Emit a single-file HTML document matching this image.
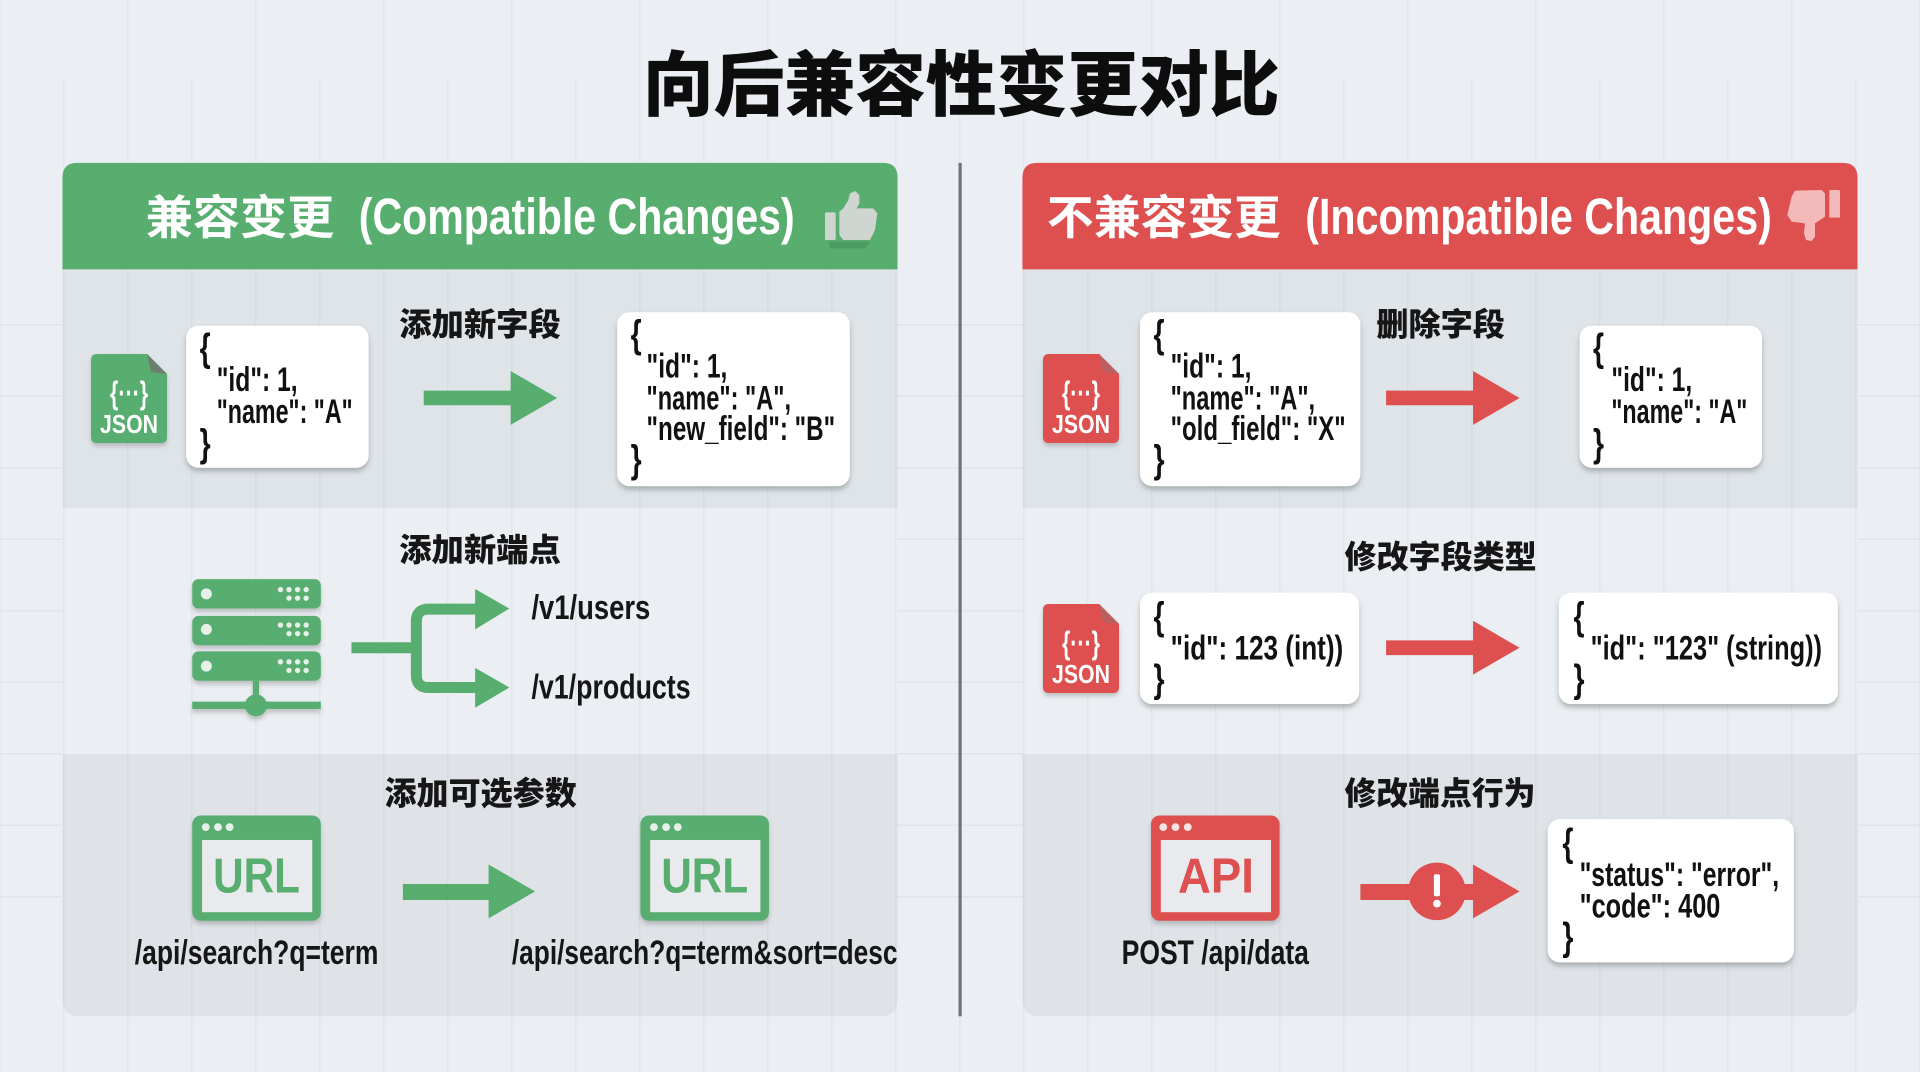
<!DOCTYPE html>
<html lang="zh">
<head>
<meta charset="utf-8">
<title>向后兼容性变更对比</title>
<style>
html,body{margin:0;padding:0;width:1920px;height:1072px;overflow:hidden;background-color:#ebeff3}
.g{position:absolute}
.h{left:0;top:320px;width:1920px;height:590px;background-image:linear-gradient(to bottom,#e0e4e9 1.5px,transparent 1.5px);background-size:64px 71.5px;background-position:0 4px}
.p{background:#ebeff3;top:163px;height:853px;width:835px}
.v1{left:0;top:0;width:1920px;height:1072px;background-image:linear-gradient(to right,#e2e6eb 1.5px,transparent 1.5px);background-size:128px 100%;background-position:127px 0}
.v2{left:0;top:80px;width:1920px;height:992px;background-image:linear-gradient(to right,#e2e6eb 1.5px,transparent 1.5px);background-size:128px 100%;background-position:63px 0}
svg{display:block;position:absolute;left:0;top:0}
text{font-family:"Liberation Sans","Noto Sans CJK SC",sans-serif;font-weight:700;fill:#111}
.cjk{font-family:"Noto Sans CJK SC","Liberation Sans",sans-serif;font-weight:900;fill:#0d0d0d}
.lab{font-family:"Noto Sans CJK SC","Liberation Sans",sans-serif;font-weight:900;font-size:26px;fill:#161616}
.w{fill:#fff}
.c{font-size:28px}
.b{font-size:32px;font-weight:700}
.u{font-size:28px;fill:#161616}
</style>
</head>
<body>
<div class="g h"></div>
<div class="g p" style="left:62px"></div>
<div class="g p" style="left:1023px"></div>
<div class="g v1"></div>
<div class="g v2"></div>
<svg width="1920" height="1072" viewBox="0 0 1568 875.5" xmlns="http://www.w3.org/2000/svg">
<defs>
<filter id="s" x="-15%" y="-15%" width="130%" height="135%"><feDropShadow dx="0" dy="3" stdDeviation="2.2" flood-color="#6f7a78" flood-opacity=".5"/></filter>
<filter id="i" x="-15%" y="-15%" width="130%" height="135%"><feDropShadow dx="0" dy="3" stdDeviation="2" flood-color="#777" flood-opacity=".4"/></filter>
</defs>

<!-- title -->
<text class="cjk" x="525" y="90" font-size="58" textLength="520" lengthAdjust="spacingAndGlyphs">向后兼容性变更对比</text>

<!-- divider -->
<rect x="782.8" y="133" width="2.6" height="697" fill="#68757b"/>

<!-- LEFT PANEL -->
<path d="M51 220H733V415H51Z" fill="#8a93a3" fill-opacity=".12"/>
<path d="M51 616H733V816Q733 830 719 830H65Q51 830 51 816Z" fill="#8a8f9a" fill-opacity=".12"/>
<path d="M51 220V145Q51 133 63 133H721Q733 133 733 145V220Z" fill="#58ae6f"/>
<text class="w" style="font-family:'Noto Sans CJK SC',sans-serif;font-weight:700" x="119" y="191" font-size="38" textLength="154" lengthAdjust="spacingAndGlyphs">兼容变更</text>
<text class="w" x="293" y="191" font-size="42" textLength="356" lengthAdjust="spacingAndGlyphs">(Compatible Changes)</text>
<g transform="scale(.81667) translate(820 180) scale(.3333)">
<path d="M25 185H150L135 205H30Z" fill="#3e7d50" opacity=".4"/>
<path d="M58 95L70 85 85 60 90 40 105 33 118 45 118 70 110 85H160L172 100 165 150 150 180H70L58 165Z" fill="#cfd6d1"/>
<rect x="15" y="97" width="32" height="83" rx="3" fill="#cfd6d1"/>
</g>

<!-- row 1 left -->
<g transform="scale(.81667) translate(91 354)" filter="url(#i)">
<path d="M6 0H56L76 20V83Q76 89 70 89H6Q0 89 0 83V6Q0 0 6 0Z" fill="#58ae6f"/>
<path d="M56 0L76 20 60 18Z" fill="#6a7f70"/>
<text class="w" x="19" y="50" font-size="32" textLength="38" lengthAdjust="spacingAndGlyphs">{···}</text>
<text class="w" x="9" y="79" font-size="26" textLength="58" lengthAdjust="spacingAndGlyphs">JSON</text>
</g>
<rect x="152" y="266" width="149" height="116" rx="10" fill="#fff" filter="url(#s)"/>
<text class="b" x="163" y="295" textLength="9" lengthAdjust="spacingAndGlyphs">{</text>
<text class="c" x="177" y="319.500" textLength="66" lengthAdjust="spacingAndGlyphs">"id": 1,</text>
<text class="c" x="177" y="345.500" textLength="111" lengthAdjust="spacingAndGlyphs">"name": "A"</text>
<text class="b" x="163" y="373" textLength="9" lengthAdjust="spacingAndGlyphs">}</text>

<text class="lab" x="326" y="274" textLength="132" lengthAdjust="spacingAndGlyphs">添加新字段</text>
<path d="M346 319H417V303L455 325 417 347V331H346Z" fill="#58ae6f"/>

<rect x="504" y="255" width="190" height="142" rx="10" fill="#fff" filter="url(#s)"/>
<text class="b" x="515" y="284" textLength="9" lengthAdjust="spacingAndGlyphs">{</text>
<text class="c" x="528" y="308.500" textLength="66" lengthAdjust="spacingAndGlyphs">"id": 1,</text>
<text class="c" x="528" y="334.500" textLength="118" lengthAdjust="spacingAndGlyphs">"name": "A",</text>
<text class="c" x="528" y="359.500" textLength="154" lengthAdjust="spacingAndGlyphs">"new_field": "B"</text>
<text class="b" x="515" y="386" textLength="9" lengthAdjust="spacingAndGlyphs">}</text>

<!-- row 2 left -->
<text class="lab" x="326" y="458" textLength="132" lengthAdjust="spacingAndGlyphs">添加新端点</text>
<g filter="url(#i)" fill="#58ae6f">
<rect x="157" y="473" width="105" height="24" rx="5"/>
<rect x="157" y="503" width="105" height="24" rx="5"/>
<rect x="157" y="532" width="105" height="24" rx="5"/>
<rect x="206.500" y="556" width="5" height="20"/>
<rect x="157" y="573" width="105" height="6"/>
<circle cx="209" cy="576" r="9"/>
</g>
<g fill="#e6efe8">
<circle cx="168.500" cy="485" r="4.500"/><circle cx="168.500" cy="514" r="4.500"/><circle cx="168.500" cy="544" r="4.500"/>
<g><circle cx="229" cy="481.500" r="2.200"/><circle cx="236" cy="481.500" r="2.200"/><circle cx="243" cy="481.500" r="2.200"/><circle cx="250" cy="481.500" r="2.200"/><circle cx="236" cy="488.500" r="2.200"/><circle cx="243" cy="488.500" r="2.200"/><circle cx="250" cy="488.500" r="2.200"/></g>
<g transform="translate(0 29)"><circle cx="229" cy="481.500" r="2.200"/><circle cx="236" cy="481.500" r="2.200"/><circle cx="243" cy="481.500" r="2.200"/><circle cx="250" cy="481.500" r="2.200"/><circle cx="236" cy="488.500" r="2.200"/><circle cx="243" cy="488.500" r="2.200"/><circle cx="250" cy="488.500" r="2.200"/></g>
<g transform="translate(0 59)"><circle cx="229" cy="481.500" r="2.200"/><circle cx="236" cy="481.500" r="2.200"/><circle cx="243" cy="481.500" r="2.200"/><circle cx="250" cy="481.500" r="2.200"/><circle cx="236" cy="488.500" r="2.200"/><circle cx="243" cy="488.500" r="2.200"/><circle cx="250" cy="488.500" r="2.200"/></g>
</g>
<path d="M287 529H340M392 497.500H350Q340 497.500 340 507.500V551.500Q340 561.500 350 561.500H392" fill="none" stroke="#58ae6f" stroke-width="9"/>
<path d="M388 481L416 497 388 514ZM388 545.500L416 561.500 388 578Z" fill="#58ae6f"/>
<text class="u" x="434" y="505.500" textLength="97" lengthAdjust="spacingAndGlyphs">/v1/users</text>
<text class="u" x="434" y="570.500" textLength="130" lengthAdjust="spacingAndGlyphs">/v1/products</text>

<!-- row 3 left -->
<text class="lab" x="314" y="657" textLength="157" lengthAdjust="spacingAndGlyphs">添加可选参数</text>
<g filter="url(#i)">
<rect x="157" y="666" width="105" height="86" rx="7" fill="#58ae6f"/>
<rect x="165" y="686" width="90" height="59" fill="#e8eaee"/>
</g>
<circle cx="168" cy="675.500" r="3.200" fill="#e6efe8"/><circle cx="178" cy="675.500" r="3.200" fill="#e6efe8"/><circle cx="187.500" cy="675.500" r="3.200" fill="#e6efe8"/>
<text style="fill:#58ae6f" x="174" y="729" font-size="40" textLength="71" lengthAdjust="spacingAndGlyphs">URL</text>
<g filter="url(#i)">
<rect x="523" y="666" width="105" height="86" rx="7" fill="#58ae6f"/>
<rect x="531" y="686" width="90" height="59" fill="#e8eaee"/>
</g>
<circle cx="534" cy="675.500" r="3.200" fill="#e6efe8"/><circle cx="544" cy="675.500" r="3.200" fill="#e6efe8"/><circle cx="553.500" cy="675.500" r="3.200" fill="#e6efe8"/>
<text style="fill:#58ae6f" x="540" y="729" font-size="40" textLength="71" lengthAdjust="spacingAndGlyphs">URL</text>
<path d="M329 722H399V706L437 728 399 750V735H329Z" fill="#58ae6f"/>
<text class="u" x="110" y="787.500" textLength="199" lengthAdjust="spacingAndGlyphs">/api/search?q=term</text>
<text class="u" x="418" y="787.500" textLength="315" lengthAdjust="spacingAndGlyphs">/api/search?q=term&amp;sort=desc</text>

<!-- RIGHT PANEL -->
<path d="M835 220H1517V415H835Z" fill="#8a93a3" fill-opacity=".12"/>
<path d="M835 616H1517V816Q1517 830 1503 830H849Q835 830 835 816Z" fill="#8a8f9a" fill-opacity=".12"/>
<path d="M835 220V145Q835 133 847 133H1505Q1517 133 1517 145V220Z" fill="#de4f4f"/>
<text class="w" style="font-family:'Noto Sans CJK SC',sans-serif;font-weight:700" x="855" y="191" font-size="38" textLength="191" lengthAdjust="spacingAndGlyphs">不兼容变更</text>
<text class="w" x="1066" y="191" font-size="42" textLength="381" lengthAdjust="spacingAndGlyphs">(Incompatible Changes)</text>
<g transform="scale(.81667) translate(1780 180) scale(.3333)" fill="#f4b9b9">
<path d="M45 32L125 30 135 40V110L105 130V170L95 183 78 180 72 160 75 130 35 125 22 105 35 50Z"/>
<rect x="148" y="30" width="32" height="83" rx="4"/>
</g>

<!-- row 1 right -->
<g transform="scale(.81667) translate(1043 354)" filter="url(#i)">
<path d="M6 0H56L76 20V83Q76 89 70 89H6Q0 89 0 83V6Q0 0 6 0Z" fill="#de4f4f"/>
<path d="M56 0L76 20 60 18Z" fill="#b9605f"/>
<text class="w" x="19" y="50" font-size="32" textLength="38" lengthAdjust="spacingAndGlyphs">{···}</text>
<text class="w" x="9" y="79" font-size="26" textLength="58" lengthAdjust="spacingAndGlyphs">JSON</text>
</g>
<rect x="931" y="255" width="180" height="142" rx="10" fill="#fff" filter="url(#s)"/>
<text class="b" x="942" y="284" textLength="9" lengthAdjust="spacingAndGlyphs">{</text>
<text class="c" x="956" y="308.500" textLength="66" lengthAdjust="spacingAndGlyphs">"id": 1,</text>
<text class="c" x="956" y="334.500" textLength="118" lengthAdjust="spacingAndGlyphs">"name": "A",</text>
<text class="c" x="956" y="359.500" textLength="143" lengthAdjust="spacingAndGlyphs">"old_field": "X"</text>
<text class="b" x="942" y="386" textLength="9" lengthAdjust="spacingAndGlyphs">}</text>
<text class="lab" x="1124" y="274" textLength="105" lengthAdjust="spacingAndGlyphs">删除字段</text>
<path d="M1132 319H1203V303L1241 325 1203 347V331H1132Z" fill="#de4f4f"/>
<rect x="1290" y="266" width="149" height="116" rx="10" fill="#fff" filter="url(#s)"/>
<text class="b" x="1301" y="295" textLength="9" lengthAdjust="spacingAndGlyphs">{</text>
<text class="c" x="1316" y="319.500" textLength="66" lengthAdjust="spacingAndGlyphs">"id": 1,</text>
<text class="c" x="1316" y="345.500" textLength="111" lengthAdjust="spacingAndGlyphs">"name": "A"</text>
<text class="b" x="1301" y="373" textLength="9" lengthAdjust="spacingAndGlyphs">}</text>

<!-- row 2 right -->
<text class="lab" x="1098" y="464" textLength="157" lengthAdjust="spacingAndGlyphs">修改字段类型</text>
<g transform="scale(.81667) translate(1043 604)" filter="url(#i)">
<path d="M6 0H56L76 20V83Q76 89 70 89H6Q0 89 0 83V6Q0 0 6 0Z" fill="#de4f4f"/>
<path d="M56 0L76 20 60 18Z" fill="#b9605f"/>
<text class="w" x="19" y="50" font-size="32" textLength="38" lengthAdjust="spacingAndGlyphs">{···}</text>
<text class="w" x="9" y="79" font-size="26" textLength="58" lengthAdjust="spacingAndGlyphs">JSON</text>
</g>
<rect x="931" y="484" width="179" height="91" rx="10" fill="#fff" filter="url(#s)"/>
<text class="b" x="942" y="514" textLength="9" lengthAdjust="spacingAndGlyphs">{</text>
<text class="c" x="956" y="538.500" textLength="141" lengthAdjust="spacingAndGlyphs">"id": 123 (int))</text>
<text class="b" x="942" y="565" textLength="9" lengthAdjust="spacingAndGlyphs">}</text>
<path d="M1132 523H1203V507L1241 529 1203 551V535H1132Z" fill="#de4f4f"/>
<rect x="1273" y="484" width="228" height="91" rx="10" fill="#fff" filter="url(#s)"/>
<text class="b" x="1285" y="514" textLength="9" lengthAdjust="spacingAndGlyphs">{</text>
<text class="c" x="1299" y="538.500" textLength="189" lengthAdjust="spacingAndGlyphs">"id": "123" (string))</text>
<text class="b" x="1285" y="565" textLength="9" lengthAdjust="spacingAndGlyphs">}</text>

<!-- row 3 right -->
<text class="lab" x="1098" y="657" textLength="156" lengthAdjust="spacingAndGlyphs">修改端点行为</text>
<g filter="url(#i)">
<rect x="940" y="666" width="105" height="86" rx="7" fill="#de4f4f"/>
<rect x="948" y="686" width="90" height="59" fill="#e8eaee"/>
</g>
<circle cx="950" cy="675.500" r="3.200" fill="#f6e4e4"/><circle cx="960" cy="675.500" r="3.200" fill="#f6e4e4"/><circle cx="970" cy="675.500" r="3.200" fill="#f6e4e4"/>
<text style="fill:#de4f4f" x="962" y="729" font-size="40" textLength="62" lengthAdjust="spacingAndGlyphs">API</text>
<text class="u" x="916" y="787.500" textLength="153" lengthAdjust="spacingAndGlyphs">POST /api/data</text>
<path d="M1111 722H1203V706L1241 728 1203 750V735H1111Z" fill="#de4f4f"/>
<circle cx="1173.500" cy="728" r="23.500" fill="#de4f4f"/>
<rect x="1171" y="714" width="5" height="18" rx="1.500" fill="#fff"/>
<circle cx="1173.500" cy="738" r="3.200" fill="#fff"/>
<rect x="1264" y="669" width="201" height="117" rx="10" fill="#fff" filter="url(#s)"/>
<text class="b" x="1276" y="699" textLength="9" lengthAdjust="spacingAndGlyphs">{</text>
<text class="c" x="1290" y="723.500" textLength="163" lengthAdjust="spacingAndGlyphs">"status": "error",</text>
<text class="c" x="1290" y="749.500" textLength="115" lengthAdjust="spacingAndGlyphs">"code": 400</text>
<text class="b" x="1276" y="776" textLength="9" lengthAdjust="spacingAndGlyphs">}</text>
</svg>
</body>
</html>
